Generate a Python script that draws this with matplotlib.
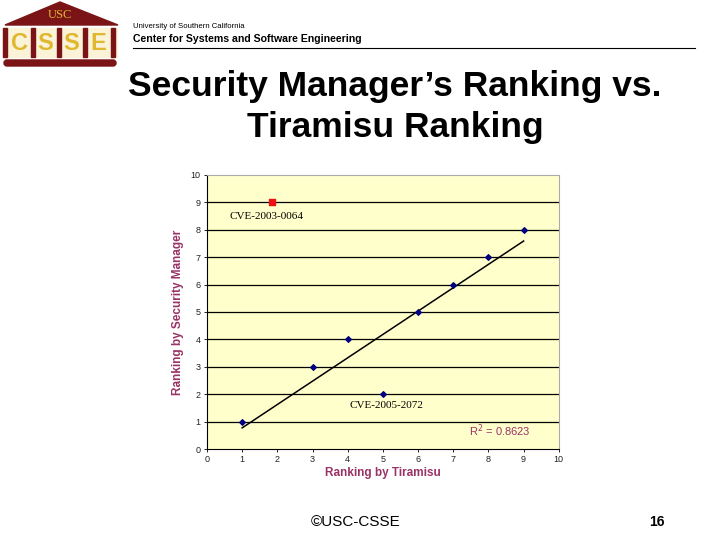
import matplotlib.pyplot as plt
import matplotlib.patches as mpatches
import numpy as np

plt.rcParams['font.family'] = ['Liberation Sans', 'DejaVu Sans']

# data
tiramisu_rank = [1, 3, 4, 5, 6, 7, 8, 9]
manager_rank = [1, 3, 4, 2, 5, 6, 7, 8]
outlier_x = [1.85]
outlier_y = [9]
outlier_label = 'CVE-2003-0064'
low_label = 'CVE-2005-2072'
r2_text = 'R$^2$ = 0.8623'
ticks = list(range(0, 11))

MAROON = '#993366'
LOGO_RED = '#7a1416'
GOLD = '#e0b830'

fig = plt.figure(figsize=(7.2, 5.4), dpi=100)

# full-figure overlay in pixel coordinates for the slide decoration
deco = fig.add_axes([0, 0, 1, 1])
deco.set_xlim(0, 720)
deco.set_ylim(540, 0)
deco.axis('off')

# logo: roof, pillars with letters, base
deco.add_patch(mpatches.Polygon([[5, 25], [60, 2], [118, 25]], closed=True,
                                color=LOGO_RED))
deco.text(60, 15, 'USC', family='Liberation Serif', color=GOLD,
          fontsize=9, ha='center', va='center')
deco.add_patch(mpatches.Rectangle((3, 28), 114, 29, color='#fbf3d8'))
for px in [3, 31, 57, 83, 111]:
    deco.add_patch(mpatches.Rectangle((px, 28), 4, 29, color=LOGO_RED))
for lx, ch in zip([19, 45, 71, 98], 'CSSE'):
    deco.text(lx, 43, ch, color=GOLD, fontsize=17, weight='bold',
              ha='center', va='center')
deco.add_patch(mpatches.FancyBboxPatch((4, 60), 112, 6,
                                       boxstyle='round,pad=0,rounding_size=3',
                                       color=LOGO_RED))

deco.text(133, 27, 'University of Southern California', fontsize=5.6,
          ha='left', va='center')
deco.text(133, 39, 'Center for Systems and Software Engineering', fontsize=7.6,
          weight='bold', ha='left', va='center')
deco.plot([133, 695], [48, 48], color='black', lw=0.8)

deco.text(395, 107, 'Security Manager\u2019s Ranking vs.\nTiramisu Ranking',
          fontsize=25.5, weight='bold', ha='center', va='center',
          linespacing=1.3)

deco.text(356, 522, '\u00a9USC-CSSE', fontsize=11, ha='center', va='center')
deco.text(657, 522, '16', fontsize=10, weight='bold', ha='center', va='center')

# chart
ax = fig.add_axes([0.2875, 0.1685, 0.4886, 0.5075])
ax.set_facecolor('#ffffcc')
ax.set_xlim(0, 10)
ax.set_ylim(0, 10)
ax.set_xticks(ticks)
ax.set_yticks(ticks)
ax.tick_params(labelsize=6.5, length=2.5, width=0.6, colors='black',
               labelcolor='#222222', pad=2)
for y in ticks[1:-1]:
    ax.axhline(y, color='black', lw=0.9, zorder=1)
ax.spines['top'].set_color('#aaaaaa')
ax.spines['right'].set_color('#aaaaaa')
ax.spines['left'].set_linewidth(0.8)
ax.spines['bottom'].set_linewidth(0.8)

slope, intercept = np.polyfit(tiramisu_rank, manager_rank, 1)
fit_x = np.array([min(tiramisu_rank), max(tiramisu_rank)])
ax.plot(fit_x, slope * fit_x + intercept, color='black', lw=1.1, zorder=2)

ax.scatter(tiramisu_rank, manager_rank, marker='D', s=8, color='#000080',
           zorder=3)
ax.scatter(outlier_x, outlier_y, marker='s', s=22, color='#ee1111', zorder=3)

ax.text(1.7, 8.5, outlier_label, family='Liberation Serif', fontsize=8,
        ha='center', va='center')
ax.text(5.1, 1.6, low_label, family='Liberation Serif', fontsize=8,
        ha='center', va='center')
ax.text(9.2, 0.65, r2_text, color=MAROON, fontsize=8, ha='right',
        va='center')

ax.set_xlabel('Ranking by Tiramisu', color=MAROON, fontsize=8.5,
              weight='bold', labelpad=2)
ax.set_ylabel('Ranking by Security Manager', color=MAROON, fontsize=8.5,
              weight='bold', labelpad=5)

fig.savefig('out.png', dpi=100)
